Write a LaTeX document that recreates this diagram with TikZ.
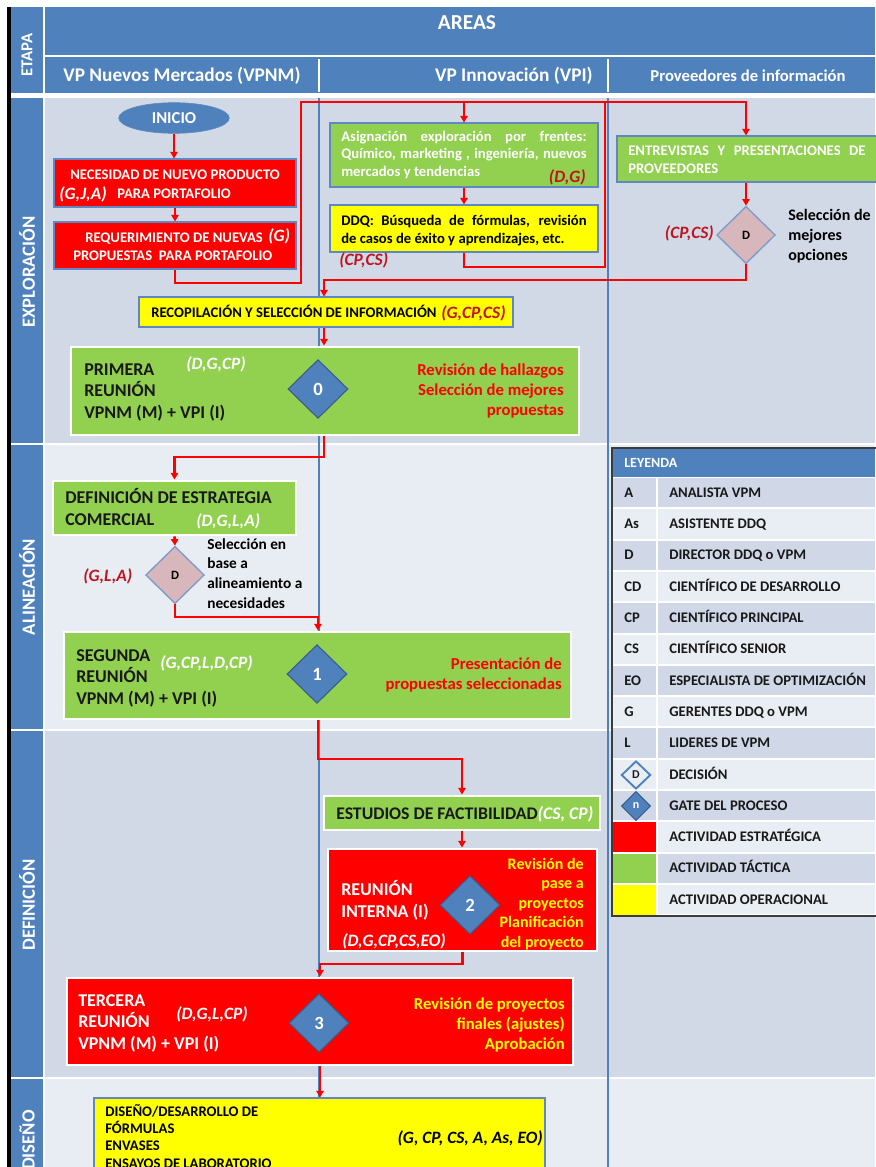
\documentclass[tikz,border=0pt]{standalone}
\usepackage{fontspec}
\setmainfont{Carlito}
\usetikzlibrary{shapes.geometric,fit,arrows.meta}
\definecolor{hblue}{RGB}{79,129,189}
\definecolor{bgA}{RGB}{210,217,230}
\definecolor{bgB}{RGB}{232,236,243}
\definecolor{cred}{RGB}{255,0,0}
\definecolor{cgreen}{RGB}{146,208,80}
\definecolor{cyellow}{RGB}{255,255,0}
\definecolor{dred}{RGB}{192,20,30}
\definecolor{bxblue}{RGB}{95,135,195}
\definecolor{dpink}{RGB}{215,182,188}
\definecolor{dborder}{RGB}{125,155,200}
\definecolor{gborder}{RGB}{56,93,138}
\definecolor{txtdark}{RGB}{25,25,25}
\definecolor{lgA}{RGB}{208,216,232}
\definecolor{lgB}{RGB}{233,237,244}
\definecolor{lgborder}{RGB}{60,60,60}
\definecolor{lane}{RGB}{79,129,189}
\newcommand{\fz}[2]{\fontsize{#1}{#2}\selectfont}
\tikzset{
  every node/.style={inner sep=0pt},
  box/.style={draw=bxblue, line width=0.8pt, inner sep=0pt},
  wbox/.style={draw=white, line width=2.2pt, inner sep=0pt},
  flow/.style={draw=cred, line width=2pt},
  arr/.style={flow, -{Triangle[length=5pt,width=5.5pt]}},
  gate/.style={diamond, fill=hblue, draw=gborder, line width=0.8pt, minimum width=45pt, minimum height=44pt, inner sep=0pt, text=white, font=\fz{14}{16}\bfseries},
  dec/.style={diamond, fill=dpink, draw=dborder, line width=1pt, minimum width=44pt, minimum height=43pt, inner sep=0pt, text=black, font=\fz{9.5}{11}\bfseries},
  sm/.style={font=\fz{11}{13}\bfseries},
  ital/.style={font=\fz{13}{15}\bfseries\itshape},
  big/.style={font=\fz{13.5}{16}\bfseries},
  stage/.style={rotate=90, text=white, font=\fz{14}{16}\bfseries}
}
\begin{document}
\begin{tikzpicture}[x=0.75pt,y=-0.75pt]
\useasboundingbox (0,0) rectangle (875,1167);
\fill[white] (0,0) rectangle (875,1167);
% header
\fill[black] (7,7) rectangle (11,1167);
\fill[hblue] (11,7) rectangle (875,93);
\draw[white, line width=1.5pt] (44,7) -- (44,93);
\draw[white, line width=1.5pt] (44,56) -- (875,56);
\draw[white, line width=1pt] (319,59) -- (319,92);
\draw[white, line width=1pt] (608,59) -- (608,92);
\node[rotate=90, text=white, font=\fz{12.5}{14}\bfseries] (hEtapa) at (27,55) {ETAPA};
\node[text=white, font=\fz{16}{18}\bfseries] (hAreas) at (467,23) {AREAS};
\node[text=white, font=\fz{14.5}{16}\bfseries] (hVPNM) at (182,76) {VP Nuevos Mercados (VPNM)};
\node[text=white, font=\fz{14.5}{16}\bfseries, anchor=east] (hVPI) at (593,76) {VP Innovación (VPI)};
\node[text=white, font=\fz{12.5}{14}\bfseries] (hProv) at (748,76) {Proveedores de información};
% stage backgrounds
\fill[hblue] (11,98) rectangle (43,443);
\fill[hblue] (11,445) rectangle (43,729);
\fill[hblue] (11,731) rectangle (43,1077);
\fill[hblue] (11,1079) rectangle (43,1167);
\fill[bgA] (45,98) rectangle (875,443);
\fill[bgB] (45,445) rectangle (875,729);
\fill[bgA] (45,731) rectangle (875,1077);
\fill[bgB] (45,1079) rectangle (875,1167);
\node[stage] (sExp) at (27,272) {EXPLORACIÓN};
\node[stage] (sAli) at (27,587) {ALINEACIÓN};
\node[stage] (sDef) at (27,905) {DEFINICIÓN};
\node[stage] (sDis) at (27,1140) {DISEÑO};
% lanes
\draw[lane, line width=1.6pt] (319,98) -- (319,1167);
\draw[lane, line width=1.6pt] (608,98) -- (608,1167);

% ---- Exploracion
\node[ellipse, fill=hblue, draw=bxblue, minimum width=83pt, minimum height=23pt, text=white, font=\fz{12.5}{14}\bfseries] (inicio) at (174,118) {INICIO};
\node[fit={(54,159)(296,207)}, box, fill=cred] (nec) {};
\node[sm, anchor=base west, text=white] (necT1) at (70,179) {NECESIDAD DE NUEVO PRODUCTO};
\node[ital, anchor=base west, text=white] (necT2) at (59,199) {(G,J,A)};
\node[sm, anchor=base west, text=white] (necT3) at (117,198) {PARA PORTAFOLIO};
\node[fit={(54,222)(296,269)}, box, fill=cred] (req) {};
\node[sm, anchor=base west, text=white] (reqT1) at (85,242) {REQUERIMIENTO DE NUEVAS};
\node[ital, anchor=base west, text=white] (reqT2) at (268,241) {(G)};
\node[sm, anchor=base west, text=white] (reqT3) at (73,260) {PROPUESTAS\ \ PARA PORTAFOLIO};

\node[fit={(330,123)(598,187)}, box, fill=cgreen] (asg) {};
\node[anchor=base west, align=left, text=white, font=\fz{11}{12.8}\bfseries] (asgT) at (341,176)
  {\makebox[184pt][s]{Asignación exploración por frentes:}\\\makebox[184pt][s]{Químico, marketing , ingeniería, nuevos}\\mercados y tendencias};
\node[ital, anchor=base east, text=dred] (asgL) at (586,182) {(D,G)};
\node[fit={(330,205)(598,252)}, box, fill=cyellow] (ddq) {};
\node[anchor=base west, align=left, text=black, font=\fz{11}{13.5}\bfseries] (ddqT) at (341,243)
  {\makebox[184pt][s]{DDQ: Búsqueda de fórmulas, revisión}\\de casos de éxito y aprendizajes, etc.};
\node[ital, anchor=base west, text=dred] (ddqL) at (339,265) {(CP,CS)};

\node[fit={(617,136)(880,182)}, box, fill=cgreen] (ent) {};
\node[anchor=base west, align=left, text=white, font=\fz{11}{13.5}\bfseries] (entT) at (628,173)
  {\makebox[178pt][s]{ENTREVISTAS Y PRESENTACIONES DE}\\PROVEEDORES};
\node[dec] (decA) at (746,235) {D};
\node[ital, anchor=base east, text=dred] (decAL) at (714,238) {(CP,CS)};
\node[anchor=base west, align=left, text=black, font=\fz{12}{15}\bfseries] (decAT) at (788,260) {Selección de\\mejores\\opciones};

\node[fit={(139,297)(513,327)}, box, fill=cyellow] (reco) {};
\node[sm, anchor=base west, text=black] (recoT) at (151,317) {RECOPILACIÓN Y SELECCIÓN DE INFORMACIÓN};
\node[ital, anchor=base west, text=dred] (recoL) at (441,318) {(G,CP,CS)};

\node[fit={(71,347)(579,435)}, wbox, fill=cgreen] (prim) {};
\node[big, anchor=base west, align=left, text=txtdark] (primT) at (84,418) {PRIMERA\\REUNIÓN\\VPNM (M) + VPI (I)};
\node[ital, anchor=base west, text=white] (primL) at (186,369) {(D,G,CP)};
\node[gate] (g0) at (318,389) {0};
\node[anchor=base east, align=right, text=cred, font=\fz{12.5}{15}\bfseries] (primR) at (564,415) {Revisión de hallazgos\\Selección de mejores\\propuestas};

% ---- Alineacion
\node[fit={(53,481)(296,535)}, wbox, fill=cgreen] (defi) {};
\node[anchor=base west, align=left, text=txtdark, font=\fz{13.5}{16.5}\bfseries] (defiT) at (65,525) {DEFINICIÓN DE ESTRATEGIA\\COMERCIAL};
\node[ital, anchor=base west, text=white] (defiL) at (196,526) {(D,G,L,A)};
\node[dec] (decB) at (175,575) {D};
\node[ital, anchor=base west, text=dred] (decBL) at (83,581) {(G,L,A)};
\node[anchor=base west, align=left, text=black, font=\fz{11.5}{14.7}\bfseries] (decBT) at (207,608) {Selección en\\base a\\alineamiento a\\necesidades};

\node[fit={(64,632)(571,719)}, wbox, fill=cgreen] (seg) {};
\node[anchor=base west, align=left, text=txtdark, font=\fz{13.5}{15.8}\bfseries] (segT) at (76,704) {SEGUNDA\\REUNIÓN\\VPNM (M) + VPI (I)};
\node[ital, anchor=base west, text=white] (segL) at (160,668) {(G,CP,L,D,CP)};
\node[gate] (g1) at (317,674) {1};
\node[anchor=base east, align=right, text=cred, font=\fz{12.5}{15}\bfseries] (segR) at (562,689) {Presentación de\\propuestas seleccionadas};

% ---- Definicion
\node[fit={(324,796)(600,830)}, wbox, fill=cgreen] (est) {};
\node[anchor=base west, text=txtdark, font=\fz{13.3}{15}\bfseries] (estT) at (336,819) {ESTUDIOS DE FACTIBILIDAD\textcolor{white}{\itshape(CS, CP)}};
\node[fit={(328,849)(597,951)}, wbox, fill=cred] (rin) {};
\node[anchor=base west, align=left, text=white, font=\fz{13.5}{16.5}\bfseries] (rinT) at (341,917) {REUNIÓN\\INTERNA (I)};
\node[ital, anchor=base west, text=white] (rinL) at (342,946) {(D,G,CP,CS,EO)};
\node[gate] (g2) at (470,905) {2};
\node[anchor=base east, align=right, text=cyellow, font=\fz{12}{14.6}\bfseries] (rinR) at (584,947) {Revisión de\\pase a\\proyectos\\Planificación\\del proyecto};

\node[fit={(67,978)(573,1065)}, wbox, fill=cred] (ter) {};
\node[anchor=base west, align=left, text=white, font=\fz{13.5}{15.8}\bfseries] (terT) at (78,1049) {TERCERA\\REUNIÓN\\VPNM (M) + VPI (I)};
\node[ital, anchor=base west, text=white] (terL) at (176,1019) {(D,G,L,CP)};
\node[gate] (g3) at (319,1023) {3};
\node[anchor=base east, align=right, text=cyellow, font=\fz{12.5}{15}\bfseries] (terR) at (565,1049) {Revisión de proyectos\\finales (ajustes)\\Aprobación};

% ---- Diseno
\node[fit={(94,1098)(545,1195)}, box, fill=cyellow] (dis) {};
\node[anchor=base west, align=left, text=black, font=\fz{11}{12.8}\bfseries] (disT) at (105,1168) {DISEÑO/DESARROLLO DE\\FÓRMULAS\\ENVASES\\ENSAYOS DE LABORATORIO};
\node[ital, anchor=base east, text=black] (disL) at (543,1143) {(G, CP, CS, A, As, EO)};

% ---- connectors
\coordinate (j1) at (301,283);
\coordinate (tl) at (301,102);
\coordinate (j2) at (605,267);
\coordinate (j3) at (324,280);
\coordinate (j4) at (324,457);
\coordinate (j5) at (318,617);
\coordinate (j6) at (318,759);
\coordinate (j7) at (320,964);
\draw[arr] (inicio.south) -- (inicio.south |- nec.north);
\draw[arr] (nec.south) -- (req.north);
\draw[arr] (req.south) |- (j1) -- (tl) -| (decA.north |- ent.north);
\draw[arr] (tl -| asg.north) -- (asg.north);
\draw[arr] (asg.south) -- (ddq.north);
\draw[flow] (ddq.south) |- (j2) -- (j2 |- tl);
\draw[arr] (decA.north |- ent.south) -- (decA.north);
\draw[arr] (decA.south) |- (j3) -- (j3 |- reco.north);
\draw[arr] (j3 |- reco.south) -- (j3 |- prim.north);
\draw[arr] (j4 |- prim.south) -- (j4) -| (defi.north);
\draw[arr] (defi.south) -- (decB.north);
\draw[arr] (decB.south) |- (j5) -- (j5 |- seg.north);
\draw[arr] (j6 |- seg.south) -- (j6) -| (est.north);
\draw[arr] (est.south) -- (est.south |- rin.north);
\draw[arr] (rin.south) |- (j7) -- (j7 |- ter.north);
\draw[arr] (j7 |- ter.south) -- (j7 |- dis.north);

% ---- legend
\fill[white] (612,448) rectangle (875,916);
\fill[hblue] (613,449) rectangle (875,477);
\node[anchor=base west, text=white, font=\fz{10.5}{12}\bfseries] (lgH) at (624,467) {LEYENDA};
\foreach \k/\c/\d in {0/A/ANALISTA VPM,1/As/ASISTENTE DDQ,2/D/DIRECTOR DDQ o VPM,3/CD/CIENTÍFICO DE DESARROLLO,4/CP/CIENTÍFICO PRINCIPAL,5/CS/CIENTÍFICO SENIOR,6/EO/ESPECIALISTA DE OPTIMIZACIÓN,7/G/GERENTES DDQ o VPM,8/L/LIDERES DE VPM,9//DECISIÓN,10//GATE DEL PROCESO,11//ACTIVIDAD ESTRATÉGICA,12//ACTIVIDAD TÁCTICA,13//ACTIVIDAD OPERACIONAL}{
  \pgfmathsetmacro\ya{477+31.3*\k}
  \pgfmathsetmacro\yd{\ya+15.6+4.7}
  \ifodd\k\relax\def\rc{lgB}\else\def\rc{lgA}\fi
  \fill[\rc] (613,\ya+1) rectangle (656,\ya+30.3);
  \fill[\rc] (658,\ya+1) rectangle (875,\ya+30.3);
  \node[anchor=base west, text=txtdark, font=\fz{11}{13}\bfseries] (lc\k) at (624,\yd) {\c};
  \node[anchor=base west, text=txtdark, font=\fz{11}{13}\bfseries] (ld\k) at (669,\yd) {\d};
}
\fill[cred] (612.5,822.3) rectangle (656,851.6);
\fill[cgreen] (612.5,853.6) rectangle (656,882.9);
\fill[cyellow] (612.5,884.9) rectangle (656,915.5);
\node[diamond, draw=hblue, line width=1.4pt, fill=lgB, minimum width=22pt, minimum height=21pt, text=txtdark, font=\fz{9}{10}\bfseries] (lgDec) at (636,775) {D};
\node[diamond, fill=hblue, draw=gborder, line width=0.8pt, minimum width=22pt, minimum height=22pt, text=white, font=\fz{9}{10}\bfseries] (lgGate) at (636,806) {n};
\draw[lgborder, line width=1pt] (612,448) rectangle (880,916);
\end{tikzpicture}
\end{document}
